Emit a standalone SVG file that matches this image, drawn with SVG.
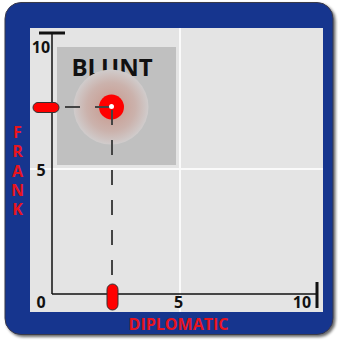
<svg xmlns="http://www.w3.org/2000/svg" width="338" height="341" viewBox="0 0 338 341">
<defs>
<radialGradient id="glow" cx="0.5" cy="0.5" r="0.5">
<stop offset="0" stop-color="#c8968a"/>
<stop offset="0.65" stop-color="#cbb2ac"/>
<stop offset="1" stop-color="#d0cccc"/>
</radialGradient>
<filter id="sh" x="-5%" y="-5%" width="115%" height="115%">
<feGaussianBlur in="SourceAlpha" stdDeviation="1.5"/>
<feOffset dx="2" dy="2"/>
<feComponentTransfer><feFuncA type="linear" slope="0.6"/></feComponentTransfer>
<feMerge><feMergeNode/><feMergeNode in="SourceGraphic"/></feMerge>
</filter>
</defs>
<style>
.num{font-family:"Open Sans","Liberation Sans",sans-serif;font-weight:bold;font-size:16px;fill:#111}
.lab{font-family:"Open Sans","Liberation Sans",sans-serif;font-weight:bold;font-size:16px;fill:#e8141e}
.axis{stroke:#111;stroke-width:1.5;fill:none}
.tick{stroke:#111;stroke-width:3;fill:none}
.dash{stroke:#444;stroke-width:2;stroke-dasharray:15 15;fill:none}
.pill{fill:#ff0000;stroke:#333;stroke-width:1}
</style>
<g id="frame">
<rect x="5" y="2.5" width="328" height="332" rx="16" fill="#17348e" stroke="#3a3a4a" stroke-width="1" filter="url(#sh)"/>
<rect x="30" y="28" width="293" height="284" fill="#e4e4e4"/>
<line x1="180" y1="28" x2="180" y2="312" stroke="#fafafa" stroke-width="2"/>
<line x1="30" y1="169" x2="323" y2="169" stroke="#fafafa" stroke-width="2"/>
</g>
<g id="blunt-zone">
<rect x="57" y="47" width="119" height="118" fill="#c0c0c0"/>
<text x="112" y="76" text-anchor="middle" font-family="'Open Sans','Liberation Sans',sans-serif" font-weight="bold" font-size="24" fill="#111">BLUNT</text>
</g>
<g id="axes">
<line class="axis" x1="52" y1="33" x2="52" y2="294"/>
<line class="axis" x1="52" y1="294" x2="317" y2="294"/>
<line class="tick" x1="39" y1="33" x2="65" y2="33"/>
<line class="tick" x1="317" y1="282" x2="317" y2="308"/>
<text class="num" x="41" y="52.5" text-anchor="middle">10</text>
<text class="num" x="41" y="175.5" text-anchor="middle">5</text>
<text class="num" x="41" y="307.5" text-anchor="middle">0</text>
<text class="num" x="178.5" y="307.5" text-anchor="middle">5</text>
<text class="num" x="302" y="307.5" text-anchor="middle">10</text>
</g>
<g id="labels">
<text class="lab" x="17.5 17.5 17.5 17.5 17.5" y="138 157 176.5 196 215" text-anchor="middle">FRANK</text>
<text class="lab" x="178.5" y="330" text-anchor="middle">DIPLOMATIC</text>
</g>
<g id="glow-point">
<circle cx="111" cy="107" r="37.5" fill="url(#glow)"/>
<circle cx="111.5" cy="107" r="12.5" fill="#ff0000"/>
</g>
<g id="connectors">
<line class="dash" x1="110" y1="107" x2="60" y2="107"/>
<line class="dash" x1="112" y1="110" x2="112" y2="285"/>
</g>
<g id="marker-frank">
<rect class="pill" x="33" y="102.5" width="26" height="10" rx="5"/>
</g>
<g id="marker-diplomatic">
<rect class="pill" x="107" y="284" width="11" height="26" rx="5.5"/>
</g>
<g id="point">
<circle cx="111.5" cy="106.5" r="2.5" fill="#ffffff"/>
</g>
</svg>
